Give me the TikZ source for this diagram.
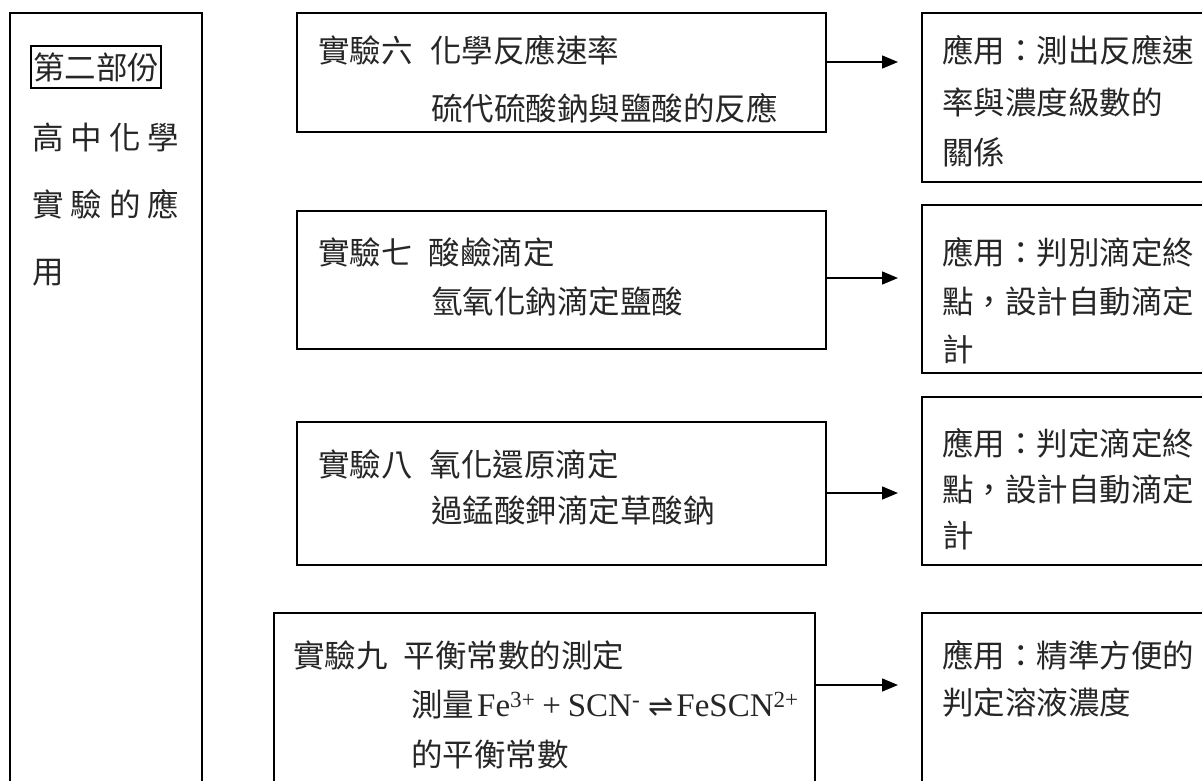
\documentclass[tikz,border=0pt]{standalone}
\usepackage{fontspec}
\setmainfont{Liberation Serif}
\newfontfamily\cjk{Noto Sans CJK TC}
\newfontfamily\djv{DejaVu Sans}
\usetikzlibrary{arrows.meta}
\begin{document}
\begin{tikzpicture}[x=1pt,y=-1pt,
  box/.style={draw, line width=1.5pt, inner sep=0pt, outer sep=0pt},
  txt/.style={anchor=west, inner sep=0pt, font=\fontsize{31.5}{36}\selectfont\cjk, text height=27.7pt, text depth=3.8pt, text=black!85},
  arr/.style={line width=1.5pt, -{Triangle[length=16pt,width=13pt]}}]
\useasboundingbox (0,0) rectangle (1202,780);
\clip (0,0) rectangle (1202,780);

% left column
\node[box, minimum width=192pt, minimum height=807pt] (left) at (106,416.5) {};
\node[box, minimum width=130pt, minimum height=42pt, font=\fontsize{31.5}{36}\selectfont\cjk, text=black!85] (part) at (96,67) {第二部份};
\node[txt] (l1) at (32,138) {高\hspace{7pt}中\hspace{7pt}化\hspace{7pt}學};
\node[txt] (l2) at (32,205) {實\hspace{7pt}驗\hspace{7pt}的\hspace{7pt}應};
\node[txt] (l3) at (32,272) {用};

% experiment boxes
\node[box, minimum width=529pt, minimum height=119pt] (exp6) at (561.5,72.5) {};
\node[txt] (e6a) at (318,51) {實驗六\hspace{17.5pt}化學反應速率};
\node[txt] (e6b) at (431,109) {硫代硫酸鈉與鹽酸的反應};

\node[box, minimum width=529pt, minimum height=138pt] (exp7) at (561.5,280) {};
\node[txt] (e7a) at (318,253) {實驗七\hspace{16pt}酸鹼滴定};
\node[txt] (e7b) at (431,302) {氫氧化鈉滴定鹽酸};

\node[box, minimum width=529pt, minimum height=143pt] (exp8) at (561.5,493.5) {};
\node[txt] (e8a) at (318,465) {實驗八\hspace{17pt}氧化還原滴定};
\node[txt] (e8b) at (431,511) {過錳酸鉀滴定草酸鈉};

\node[box, minimum width=541pt, minimum height=217pt] (exp9) at (544.5,721.5) {};
\node[txt] (e9a) at (293,656) {實驗九\hspace{16pt}平衡常數的測定};
\node[txt] (e9b) at (411,705) {測量\hspace{3pt}{\rmfamily\fontsize{33}{36}\selectfont Fe\textsuperscript{3+}\hspace{7pt}+\hspace{7pt}SCN\textsuperscript{-}\hspace{8pt}{\djv\fontsize{30}{30}\selectfont ⇌}\hspace{3pt}FeSCN\textsuperscript{2+}}};
\node[txt] (e9c) at (411,755) {的平衡常數};

% application boxes
\node[box, minimum width=308pt, minimum height=169pt] (app1) at (1076,97.5) {};
\node[txt] (a1a) at (942,51) {應用：測出反應速};
\node[txt] (a1b) at (942,103) {率與濃度級數的};
\node[txt] (a1c) at (942,153) {關係};

\node[box, minimum width=308pt, minimum height=168pt] (app2) at (1076,289) {};
\node[txt] (a2a) at (942,253) {應用：判別滴定終};
\node[txt] (a2b) at (942,302) {點，設計自動滴定};
\node[txt] (a2c) at (942,350) {計};

\node[box, minimum width=308pt, minimum height=168pt] (app3) at (1076,481) {};
\node[txt] (a3a) at (942,444) {應用：判定滴定終};
\node[txt] (a3b) at (942,490) {點，設計自動滴定};
\node[txt] (a3c) at (942,536) {計};

\node[box, minimum width=308pt, minimum height=217pt] (app4) at (1076,721.5) {};
\node[txt] (a4a) at (942,656) {應用：精準方便的};
\node[txt] (a4b) at (942,703) {判定溶液濃度};

% arrows
\coordinate (t6) at (898,62);
\coordinate (t7) at (898,278);
\coordinate (t8) at (898,493);
\coordinate (t9) at (898,685);
\draw[arr] (exp6.east |- t6) -- (t6);
\draw[arr] (exp7.east |- t7) -- (t7);
\draw[arr] (exp8.east |- t8) -- (t8);
\draw[arr] (exp9.east |- t9) -- (t9);
\end{tikzpicture}
\end{document}
